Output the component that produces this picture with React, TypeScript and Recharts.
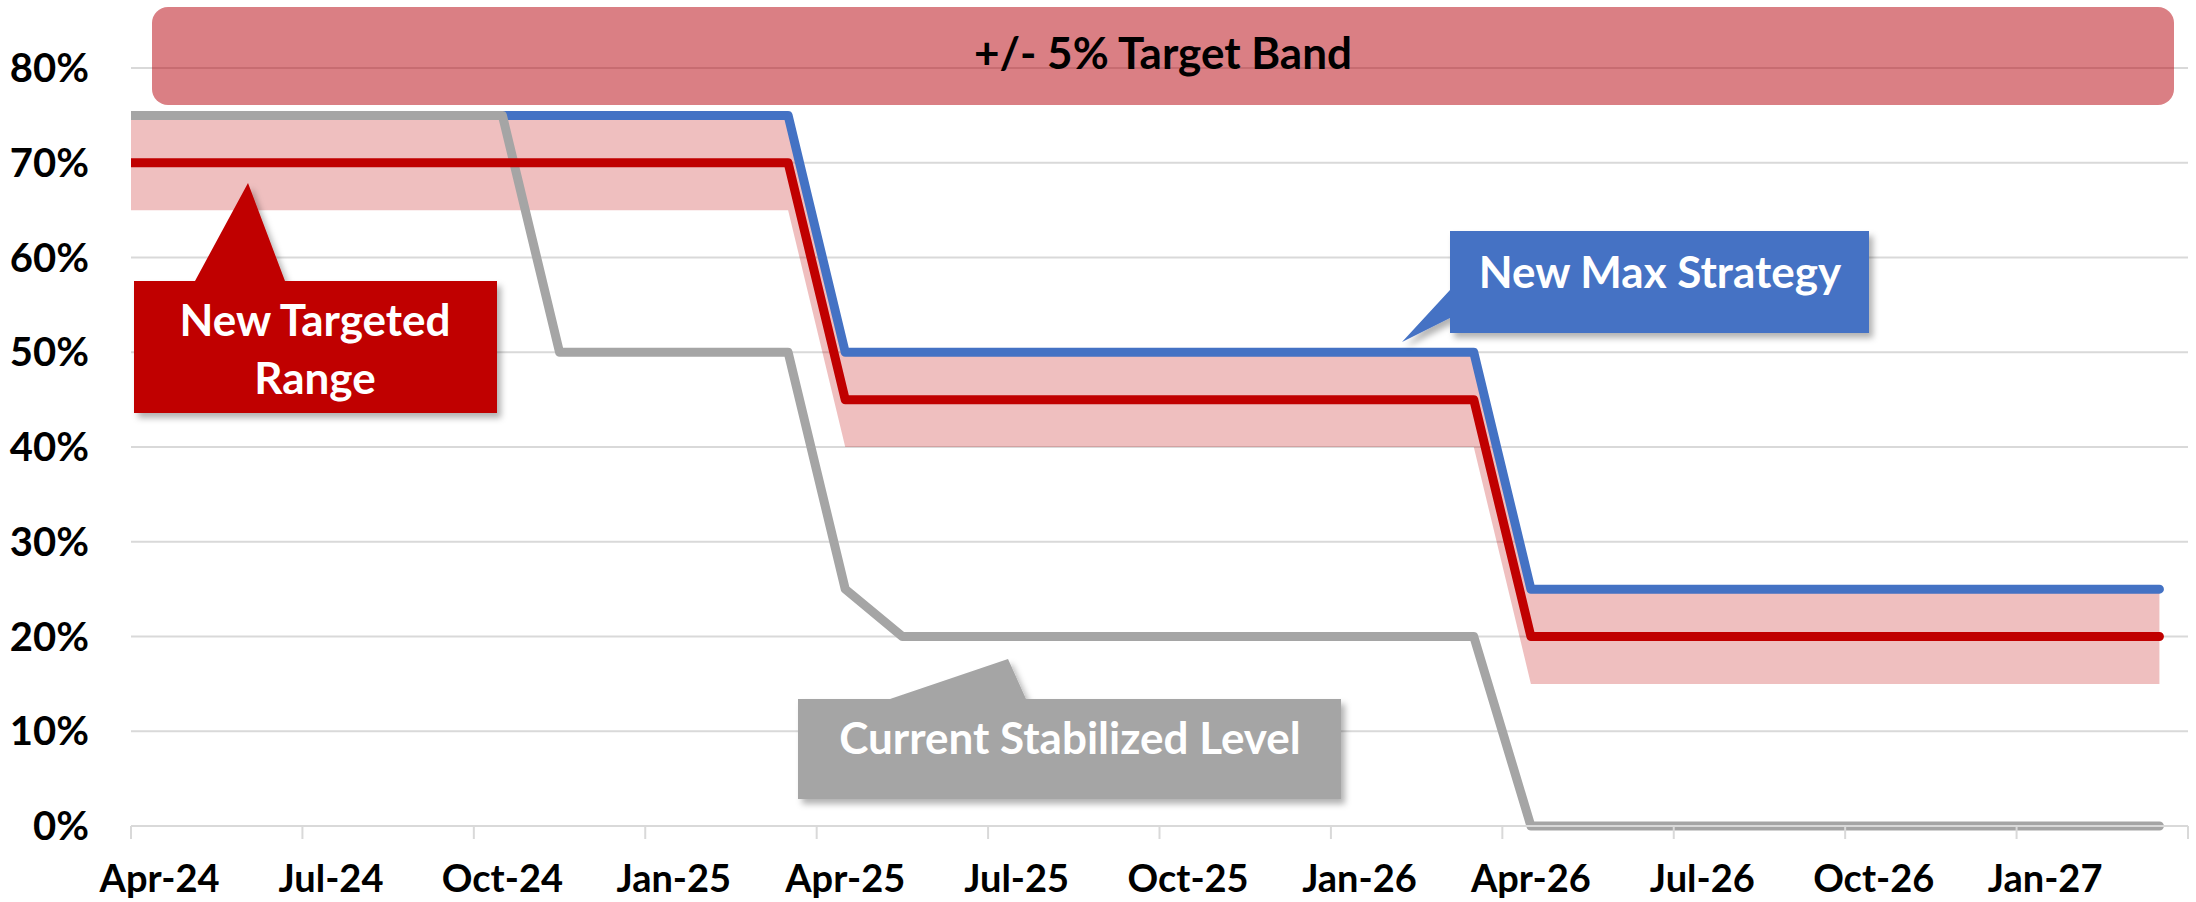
import {
  ComposedChart,
  Line,
  Area,
  XAxis,
  YAxis,
  CartesianGrid,
} from "recharts"

// monthly points, Mar-24 .. Mar-27 (Mar-24 sits left of the axis and gets clipped)
const months = [
  "Mar-24", "Apr-24", "May-24", "Jun-24", "Jul-24", "Aug-24", "Sep-24", "Oct-24",
  "Nov-24", "Dec-24", "Jan-25", "Feb-25", "Mar-25", "Apr-25", "May-25", "Jun-25",
  "Jul-25", "Aug-25", "Sep-25", "Oct-25", "Nov-25", "Dec-25", "Jan-26", "Feb-26",
  "Mar-26", "Apr-26", "May-26", "Jun-26", "Jul-26", "Aug-26", "Sep-26", "Oct-26",
  "Nov-26", "Dec-26", "Jan-27", "Feb-27", "Mar-27",
]

const maxStrategy = [
  0.75, 0.75, 0.75, 0.75, 0.75, 0.75, 0.75, 0.75, 0.75, 0.75, 0.75, 0.75, 0.75,
  0.5, 0.5, 0.5, 0.5, 0.5, 0.5, 0.5, 0.5, 0.5, 0.5, 0.5, 0.5,
  0.25, 0.25, 0.25, 0.25, 0.25, 0.25, 0.25, 0.25, 0.25, 0.25, 0.25, 0.25,
]

const targeted = [
  0.7, 0.7, 0.7, 0.7, 0.7, 0.7, 0.7, 0.7, 0.7, 0.7, 0.7, 0.7, 0.7,
  0.45, 0.45, 0.45, 0.45, 0.45, 0.45, 0.45, 0.45, 0.45, 0.45, 0.45, 0.45,
  0.2, 0.2, 0.2, 0.2, 0.2, 0.2, 0.2, 0.2, 0.2, 0.2, 0.2, 0.2,
]

const current = [
  0.75, 0.75, 0.75, 0.75, 0.75, 0.75, 0.75, 0.75,
  0.5, 0.5, 0.5, 0.5, 0.5,
  0.25,
  0.2, 0.2, 0.2, 0.2, 0.2, 0.2, 0.2, 0.2, 0.2, 0.2, 0.2,
  0, 0, 0, 0, 0, 0, 0, 0, 0, 0, 0, 0,
]

const BAND = 0.05 // +/- 5% around the targeted level

const tickLabels = [
  "Apr-24", "Jul-24", "Oct-24", "Jan-25", "Apr-25", "Jul-25",
  "Oct-25", "Jan-26", "Apr-26", "Jul-26", "Oct-26", "Jan-27",
]

const yTicks = [0, 0.1, 0.2, 0.3, 0.4, 0.5, 0.6, 0.7, 0.8]

const W = 2196
const H = 902
const LEFT = 131
const RIGHT = 8
const TOP = 68
const BOTTOM = 76
const PLOT_W = W - LEFT - RIGHT
const N_MONTHS = 36
const HALF_MONTH = PLOT_W / N_MONTHS / 2
const FONT = "Lato, 'Open Sans', sans-serif"

// x = month offset from Apr-24
const rows = months.map((label, i) => ({
  m: i - 1,
  label,
  maxStrategy: maxStrategy[i],
  targeted: targeted[i],
  current: current[i],
  band: [targeted[i] - BAND, targeted[i] + BAND],
}))

// tick marks sit on the month boundaries, labels on the month centre
const edgeTicks = [...tickLabels.map((l) => months.indexOf(l) - 1.5), N_MONTHS - 0.5]

const MonthTick = ({ x, y, payload }: any) => {
  const k = edgeTicks.indexOf(payload.value)
  const label = tickLabels[k]
  if (!label) return null
  return (
    <text
      x={x + HALF_MONTH}
      y={y + 53}
      textAnchor="middle"
      fill="#000"
      fontSize={38}
      fontWeight={700}
      fontFamily={FONT}
    >
      {label}
    </text>
  )
}

const calloutText = {
  fill: "#fff",
  fontSize: 44,
  fontWeight: 700,
  fontFamily: FONT,
  textAnchor: "middle" as const,
}

function Callouts() {
  return (
    <svg
      width={W}
      height={H}
      style={{ position: "absolute", left: 0, top: 0, pointerEvents: "none" }}
    >
      <defs>
        <filter id="shadow" x="-10%" y="-20%" width="130%" height="150%">
          <feDropShadow dx="4" dy="5" stdDeviation="3" floodColor="#000" floodOpacity="0.3" />
        </filter>
      </defs>

      <rect x={152} y={7} width={2022} height={98} rx={16} fill="#b5000a" fillOpacity={0.5} />
      <text x={1163} y={69} textAnchor="middle" fill="#000" fontSize={44} fontWeight={700} fontFamily={FONT}>
        +/- 5% Target Band
      </text>

      <path
        d="M134,281 H195 L248,183 L285,281 H497 V413 H134 Z"
        fill="#c00000"
        filter="url(#shadow)"
      />
      <text x={315} y={336} {...calloutText}>New Targeted</text>
      <text x={315} y={394} {...calloutText}>Range</text>

      <path
        d="M1450,231 H1869 V333 H1450 V318 L1402,342 L1450,290 Z"
        fill="#4472c4"
        filter="url(#shadow)"
      />
      <text x={1660} y={288} {...calloutText}>New Max Strategy</text>

      <path
        d="M798,699 H890 L1008,659 L1026,699 H1341 V799 H798 Z"
        fill="#a5a5a5"
        filter="url(#shadow)"
      />
      <text x={1070} y={754} {...calloutText}>Current Stabilized Level</text>
    </svg>
  )
}

export default function App() {
  return (
    <div style={{ position: "absolute", left: 0, top: 0, width: W, height: H, background: "#fff" }}>
      <ComposedChart
        width={W}
        height={H}
        data={rows}
        margin={{ top: TOP, right: RIGHT, bottom: 0, left: 0 }}
      >
        <CartesianGrid vertical={false} stroke="#d9d9d9" strokeWidth={2} />
        <XAxis
          dataKey="m"
          type="number"
          domain={[-0.5, N_MONTHS - 0.5]}
          allowDataOverflow
          ticks={edgeTicks}
          interval={0}
          height={BOTTOM}
          tickSize={13}
          tickMargin={0}
          tickLine={{ stroke: "#d9d9d9", strokeWidth: 2 }}
          axisLine={{ stroke: "#d9d9d9", strokeWidth: 2 }}
          tick={<MonthTick />}
        />
        <YAxis
          type="number"
          domain={[0, 0.8]}
          ticks={yTicks}
          interval={0}
          width={LEFT}
          axisLine={false}
          tickLine={false}
          tickSize={0}
          tickMargin={42}
          tickFormatter={(v) => `${Math.round(v * 100)}%`}
          tick={{ fill: "#000", fontSize: 40, fontWeight: 700, fontFamily: FONT }}
        />
        <Area
          type="linear"
          dataKey="band"
          stroke="none"
          fill="#c00000"
          fillOpacity={0.25}
          isAnimationActive={false}
        />
        <Line
          type="linear"
          dataKey="maxStrategy"
          stroke="#4472c4"
          strokeWidth={9}
          strokeLinecap="round"
          strokeLinejoin="round"
          dot={false}
          isAnimationActive={false}
        />
        <Line
          type="linear"
          dataKey="current"
          stroke="#a5a5a5"
          strokeWidth={9}
          strokeLinecap="round"
          strokeLinejoin="round"
          dot={false}
          isAnimationActive={false}
        />
        <Line
          type="linear"
          dataKey="targeted"
          stroke="#c00000"
          strokeWidth={9}
          strokeLinecap="round"
          strokeLinejoin="round"
          dot={false}
          isAnimationActive={false}
        />
      </ComposedChart>
      <Callouts />
    </div>
  )
}
